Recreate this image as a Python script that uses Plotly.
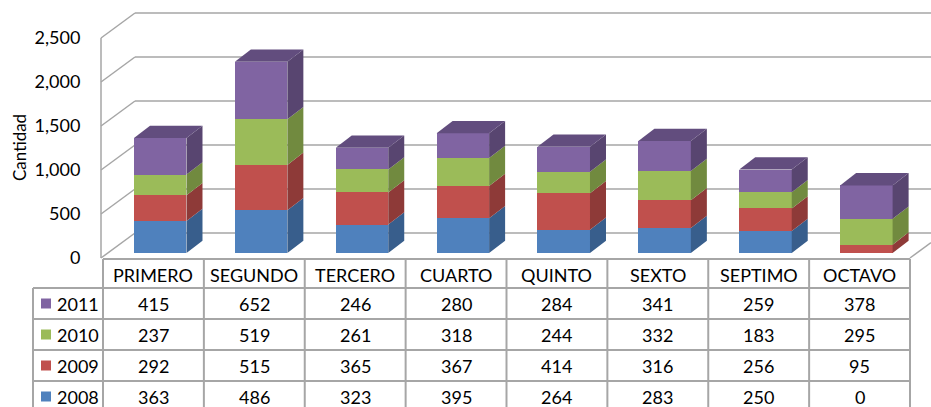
import plotly.graph_objects as go

# ---------------- data ----------------
CATEGORIES = ["PRIMERO", "SEGUNDO", "TERCERO", "CUARTO", "QUINTO", "SEXTO", "SEPTIMO", "OCTAVO"]
YEARS = ["2008", "2009", "2010", "2011"]
V2008 = [363, 486, 323, 395, 264, 283, 250, 0]
V2009 = [292, 515, 365, 367, 414, 316, 256, 95]
V2010 = [237, 519, 261, 318, 244, 332, 183, 295]
V2011 = [415, 652, 246, 280, 284, 341, 259, 378]
SERIES = [V2008, V2009, V2010, V2011]
TICKS = [0, 500, 1000, 1500, 2000, 2500]
TICK_TEXT = ["0", "500", "1,000", "1,500", "2,000", "2,500"]
Y_TITLE = "Cantidad"

# ---------------- styles ----------------
FRONT = ["#4F81BD", "#C0504D", "#9BBB59", "#8064A2"]
SIDE = ["#385E8C", "#8E3A38", "#718A3F", "#584570"]
TOP = ["#41699a", "#a04442", "#7f9a48", "#624d7e"]
GRID = "#a6a6a6"
FONT = "Lato"
FS = 18

W, H = 931, 407
def fx(px): return px / W
def fy(py): return 1 - py / H

S = 220 / 2500          # px per unit
PLOT_L, PLOT_R = 103, 910
NCAT = len(CATEGORIES)
UNIT_PX = (PLOT_R - PLOT_L) / NCAT
BAR_SHIFT = 6.8 / UNIT_PX
BAR_W = 52.5 / UNIT_PX
DX = 16.0 / UNIT_PX
DY = 12.3 / S

fig = go.Figure()

# front faces
for k, vals in enumerate(SERIES):
    fig.add_trace(go.Bar(
        x=[i + BAR_SHIFT for i in range(NCAT)], y=vals, width=BAR_W,
        marker=dict(color=FRONT[k], line=dict(width=0)),
        name=YEARS[k], hoverinfo="skip", xaxis="x", yaxis="y"))

# side faces
base = [0] * NCAT
for k, vals in enumerate(SERIES):
    xs, ys = [], []
    for i in range(NCAT):
        v = vals[i]
        if v > 0:
            xr = i + BAR_SHIFT + BAR_W / 2
            b, t = base[i], base[i] + v
            xs += [xr, xr + DX, xr + DX, xr, xr, None]
            ys += [b, b + DY, t + DY, t, b, None]
        base[i] += v
    fig.add_trace(go.Scatter(x=xs, y=ys, mode="lines", fill="toself",
                             fillcolor=SIDE[k], line=dict(width=0, color=SIDE[k]),
                             hoverinfo="skip", showlegend=False, xaxis="x", yaxis="y"))

# top faces
for i in range(NCAT):
    t = sum(s[i] for s in SERIES)
    last = max(k for k in range(len(SERIES)) if SERIES[k][i] > 0)
    xl = i + BAR_SHIFT - BAR_W / 2
    xr = i + BAR_SHIFT + BAR_W / 2
    fig.add_trace(go.Scatter(x=[xl, xl + DX, xr + DX, xr, xl], y=[t, t + DY, t + DY, t, t],
                             mode="lines", fill="toself", fillcolor=TOP[last],
                             line=dict(width=0, color=TOP[last]),
                             hoverinfo="skip", showlegend=False, xaxis="x", yaxis="y"))

# dummy trace for the label axis
fig.add_trace(go.Scatter(x=[0], y=[0], mode="markers", marker=dict(opacity=0),
                         hoverinfo="skip", showlegend=False, xaxis="x2", yaxis="y2"))

shapes = []
def line(x0, y0, x1, y1, w=1.5, c=GRID):
    shapes.append(dict(type="line", xref="paper", yref="paper",
                       x0=fx(x0), y0=fy(y0), x1=fx(x1), y1=fy(y1),
                       line=dict(color=c, width=w), layer="below"))

# back wall gridlines + side wall diagonals
for v in TICKS:
    line(135, 233 - v * S, 931, 233 - v * S)
    line(101, 258 - v * S, 135, 233 - v * S)
line(101, 258, 101, 258 - 2500 * S)
line(910, 258, 931, 258 - 21 * 25 / 34)

# table grid
XE = [PLOT_L + i * UNIT_PX for i in range(NCAT + 1)]
ROW_TOP = 259
HDR_B = 288
RH = 31
line(PLOT_L, ROW_TOP, PLOT_R, ROW_TOP, w=2)
for r in range(4):
    yy = HDR_B + r * RH
    line(33, yy, PLOT_R, yy, w=2)
line(33, HDR_B, 33, 410, w=2)
for xe in XE:
    line(xe, ROW_TOP, xe, 410, w=2)

annotations = []
def text(x, y, s, anchor="center", size=FS):
    annotations.append(dict(x=fx(x), y=fy(y), xref="paper", yref="paper", text=s,
                            showarrow=False, xanchor=anchor, yanchor="middle",
                            font=dict(family=FONT, size=size, color="#000000")))

for i, c in enumerate(CATEGORIES):
    text((XE[i] + XE[i + 1]) / 2, (ROW_TOP + HDR_B) / 2 + 1, c)

row_order = [3, 2, 1, 0]
for r, k in enumerate(row_order):
    yc = HDR_B + r * RH + RH / 2
    shapes.append(dict(type="rect", xref="paper", yref="paper",
                       x0=fx(41), x1=fx(51), y0=fy(yc - 5), y1=fy(yc + 5),
                       fillcolor=FRONT[k], line=dict(width=0)))
    text(55, yc, YEARS[k], anchor="left")
    for i in range(NCAT):
        text((XE[i] + XE[i + 1]) / 2, yc, str(SERIES[k][i]))

annotations.append(dict(x=fx(19), y=fy(148), xref="paper", yref="paper", text=Y_TITLE,
                        showarrow=False, textangle=-90, xanchor="center", yanchor="middle",
                        font=dict(family=FONT, size=17, color="#000000")))

fig.update_layout(
    width=W, height=H, margin=dict(l=0, r=0, t=0, b=0, autoexpand=False),
    paper_bgcolor="white", plot_bgcolor="rgba(0,0,0,0)",
    barmode="stack", bargap=0, showlegend=False,
    xaxis=dict(domain=[fx(PLOT_L), fx(PLOT_R)], range=[-0.5, NCAT - 0.5], visible=False, fixedrange=True),
    yaxis=dict(domain=[fy(253), fy(253 - 2500 * S)], range=[0, 2500], visible=False, fixedrange=True),
    xaxis2=dict(domain=[fx(101), fx(PLOT_R)], range=[0, 1], visible=False, anchor="y2"),
    yaxis2=dict(domain=[fy(258), fy(258 - 2500 * S)], range=[0, 2500], anchor="x2",
                tickvals=TICKS, ticktext=TICK_TEXT, showgrid=False, zeroline=False,
                showline=False, ticks="outside", ticklen=16, tickcolor="rgba(0,0,0,0)",
                tickfont=dict(family=FONT, size=FS, color="#000000")),
    shapes=shapes, annotations=annotations,
)

fig.write_html("out.html",
               post_script="document.body.style.margin='0';document.documentElement.style.overflow='hidden';",
               config={"displayModeBar": False})
